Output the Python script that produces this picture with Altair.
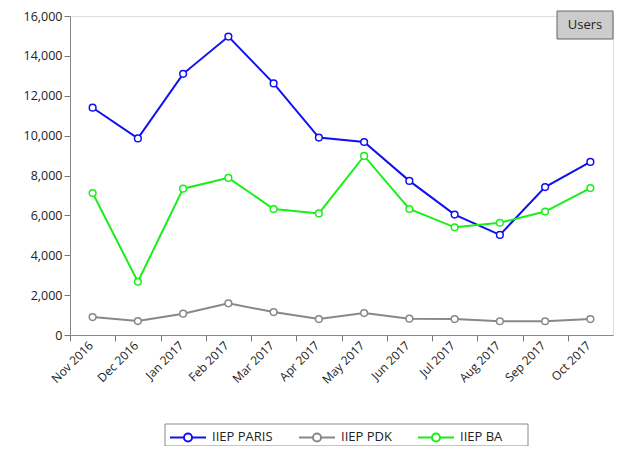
import altair as alt
import pandas as pd

months = ["Nov 2016", "Dec 2016", "Jan 2017", "Feb 2017", "Mar 2017", "Apr 2017",
          "May 2017", "Jun 2017", "Jul 2017", "Aug 2017", "Sep 2017", "Oct 2017"]
sites = ["IIEP PARIS", "IIEP PDK", "IIEP BA"]
paris = [11400, 9860, 13100, 14970, 12620, 9900, 9680, 7730, 6040, 5020, 7420, 8680]
pdk = [900, 700, 1070, 1590, 1150, 800, 1100, 820, 800, 690, 690, 800]
ba = [7120, 2670, 7340, 7880, 6320, 6100, 8980, 6320, 5400, 5630, 6190, 7370]
y_ticks = [0, 2000, 4000, 6000, 8000, 10000, 12000, 14000, 16000]
colors = ["#1010f0", "#888888", "#1aee1a"]

rows = []
for site, vals in zip(sites, [paris, pdk, ba]):
    for m, v in zip(months, vals):
        rows.append({"month": m, "site": site, "users": v})
df = pd.DataFrame(rows)

W, H = 543, 319
step = W / len(months)
FONT = "Open Sans"

x_enc = alt.X("month:O", sort=months, title=None,
              scale=alt.Scale(type="point", padding=0.5),
              axis=alt.Axis(labelAngle=-45, labelAlign="right", labelBaseline="middle",
                            tickOffset=-step / 2, labelOffset=step / 2 - 2,
                            labelFont=FONT, labelFontSize=12, labelColor="#222",
                            tickColor="#777", tickSize=6, domainColor="#888",
                            labelPadding=2))
y_enc = alt.Y("users:Q", title=None,
              scale=alt.Scale(domain=[0, 16000], nice=False),
              axis=alt.Axis(values=y_ticks, format=",.0f", formatType="number",
                            grid=False, labelFont=FONT, labelFontSize=12.5,
                            labelColor="#222", tickColor="#777", tickSize=6,
                            domainColor="#888"))
color_enc = alt.Color("site:N", sort=sites,
                      scale=alt.Scale(domain=sites, range=colors),
                      legend=alt.Legend(title=None, orient="none", direction="horizontal",
                                        legendX=108, legendY=411,
                                        symbolType="M-2,0H-0.45M0.45,0H2M-0.45,0A0.45,0.45 0 1,0 0.45,0A0.45,0.45 0 1,0 -0.45,0",
                                        symbolSize=324, symbolStrokeWidth=2,
                                        symbolFillColor="white",
                                        labelFont=FONT, labelFontSize=13, labelColor="#222",
                                        labelOffset=14, columnPadding=22))

base = alt.Chart(df).encode(x=x_enc, y=y_enc, color=color_enc)
lines = base.mark_line(strokeWidth=2)
points = base.mark_point(filled=False, fill="white", size=45, strokeWidth=1.5, opacity=1)

box_df = pd.DataFrame({"t": ["Users"]})
users_box = alt.Chart(box_df).mark_rect(fill="#cccccc", stroke="#666666", strokeWidth=1).encode(
    x=alt.value(487), x2=alt.value(543), y=alt.value(-5), y2=alt.value(23))
users_text = alt.Chart(box_df).mark_text(font=FONT, fontSize=13, color="#222").encode(
    x=alt.value(515), y=alt.value(9), text="t:N")

legend_df = pd.DataFrame({"t": ["legend"]})
legend_box = alt.Chart(legend_df).mark_rect(fill=None, stroke="#888888", strokeWidth=1).encode(
    x=alt.value(95), x2=alt.value(458), y=alt.value(408), y2=alt.value(430))

chart = alt.layer(lines, points, users_box, users_text, legend_box).properties(
    width=W, height=H,
    autosize=alt.AutoSizeParams(type="none"),
    padding={"left": 62, "top": 8, "right": 3, "bottom": 111},
).configure_view(stroke="#888888", strokeWidth=1).configure(background="white")

chart.save("out.html", embed_options={"renderer": "svg", "actions": False})
